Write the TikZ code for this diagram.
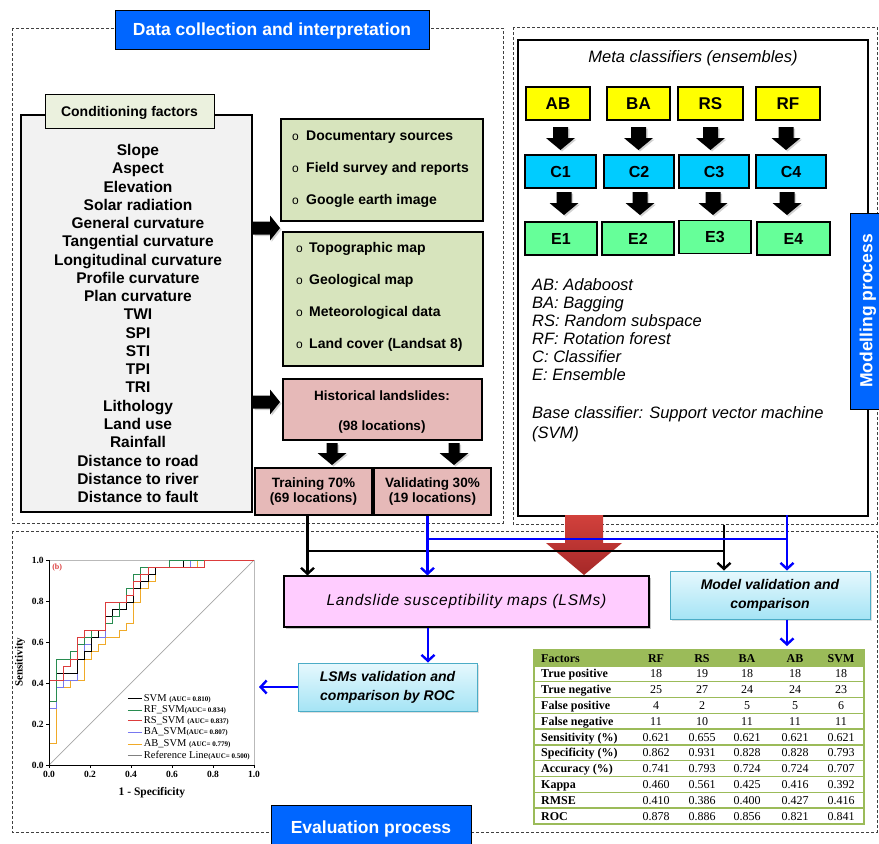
\documentclass[tikz,border=0pt]{standalone}
\usepackage{fontspec}
\setmainfont{Liberation Sans}
\newfontfamily\tabfont{Liberation Serif}
\newfontfamily\lsmfont[LetterSpace=5]{Liberation Sans}
\usetikzlibrary{arrows.meta,shadows,calc}
\definecolor{tabblue}{RGB}{0,102,255}
\definecolor{factgray}{RGB}{242,242,242}
\definecolor{labgreen}{RGB}{235,241,222}
\definecolor{srcgreen}{RGB}{215,228,189}
\definecolor{histpink}{RGB}{230,185,184}
\definecolor{ensyellow}{RGB}{255,255,0}
\definecolor{clscyan}{RGB}{0,204,255}
\definecolor{ensgreen}{RGB}{102,255,153}
\definecolor{lsmpink}{RGB}{255,204,255}
\definecolor{valtop}{RGB}{230,248,253}
\definecolor{valbot}{RGB}{165,228,245}
\definecolor{valedge}{RGB}{75,172,198}
\definecolor{tabgreen}{RGB}{155,187,89}
\definecolor{redarrow}{RGB}{210,65,60}
\definecolor{redarrowdark}{RGB}{165,40,40}
\definecolor{linkblue}{RGB}{0,0,255}
\definecolor{rocgreen}{RGB}{40,140,80}
\definecolor{rocred}{RGB}{220,60,60}
\definecolor{rocblue}{RGB}{120,120,240}
\definecolor{rocorange}{RGB}{240,170,40}
\newcommand\fatright[2]{%
  \fill[black, drop shadow={shadow xshift=1.5pt,shadow yshift=-1.5pt,opacity=0.35}]
    (#1,#2) ++(0,-6.5) -- ++(17,0) -- ++(0,-6) -- ++(10,12.5) -- ++(-10,12.5) -- ++(0,-6) -- ++(-17,0) -- cycle;}
\newcommand\fatdown[6]{%
  \fill[black, drop shadow={shadow xshift=1.5pt,shadow yshift=-1.5pt,opacity=0.35}]
    ({#1-#3},#2) -- ({#1+#3},#2) -- ({#1+#3},#5) -- ({#1+#4},#5) -- (#1,#6) -- ({#1-#4},#5) -- ({#1-#3},#5) -- cycle;}
\begin{document}
\begin{tikzpicture}[x=1pt,y=-1pt,
  dashbox/.style={draw=black!75, dash pattern=on 3pt off 2pt, line width=0.9pt},
  tabbox/.style={fill=tabblue, draw=black, line width=1pt, text=white, font=\bfseries\fontsize{17.5}{20}\selectfont, inner sep=0pt, text height=12.5pt, text depth=0pt},
  plainbox/.style={draw=black, line width=1.1pt, inner sep=0pt},
  fact/.style={anchor=base, font=\bfseries\fontsize{15.5}{18}\selectfont, inner sep=0pt},
  srctext/.style={anchor=base west, font=\bfseries\fontsize{14}{16}\selectfont, inner sep=0pt},
  bul/.style={anchor=base west, font=\fontsize{12}{14}\selectfont, inner sep=0pt},
  ensbox/.style={draw=black, line width=1.1pt, font=\bfseries\fontsize{17}{20}\selectfont, inner sep=0pt, minimum height=33},
  clsbox/.style={draw=black, line width=1.1pt, font=\bfseries\fontsize{16}{20}\selectfont, inner sep=0pt, minimum height=33},
  legtext/.style={anchor=base west, font=\itshape\fontsize{16.5}{18}\selectfont, inner sep=0pt},
  valbox/.style={draw=valedge, line width=1pt, top color=valtop, bottom color=valbot, font=\bfseries\itshape\fontsize{14}{19}\selectfont, align=center, inner sep=0pt, drop shadow={shadow xshift=1.5pt,shadow yshift=-1.5pt,opacity=0.25}},
  blk/.style={line width=2.4pt, black},
  blu/.style={line width=2.4pt, linkblue},
  arrowend/.style={-{Straight Barb[length=6pt,width=13pt]}},
  cellb/.style={inner sep=0pt, font=\tabfont\bfseries\fontsize{12}{14}\selectfont},
  cellr/.style={anchor=base, inner sep=0pt, font=\tabfont\fontsize{12}{14}\selectfont},
  ticklab/.style={inner sep=0pt, font=\tabfont\bfseries\fontsize{9.5}{11}\selectfont}
]
\useasboundingbox (0,0) rectangle (879,844);
\fill[white] (0,0) rectangle (879,844);

% ---------- dashed frames ----------
\draw[dashbox] (12,28) rectangle (503,523);
\draw[dashbox] (513,27) rectangle (877,524);
\draw[dashbox] (12,531) rectangle (877,832);

% ---------- data collection ----------
\node[tabbox, minimum width=314, minimum height=39] (t1) at (272,29.5) {Data collection and interpretation};

\node[draw=black, line width=1.2pt, fill=factgray, minimum width=231, minimum height=397] (fbox) at (136.5,313.5) {};
\node[draw=black, line width=1pt, fill=labgreen, minimum width=169, minimum height=34, inner sep=0pt,
      font=\bfseries\fontsize{14}{16}\selectfont, text height=10pt, text depth=0pt,
      drop shadow={shadow xshift=1pt,shadow yshift=-1pt,opacity=0.3}] (flab) at (129.5,111) {Conditioning factors};
\foreach \t [count=\i] in {Slope,Aspect,Elevation,Solar radiation,General curvature,Tangential curvature,Longitudinal curvature,Profile curvature,Plan curvature,TWI,SPI,STI,TPI,TRI,Lithology,Land use,Rainfall,Distance to road,Distance to river,Distance to fault}
  \node[fact] (f\i) at (138,{155.6+18.26*(\i-1)}) {\t};

\node[draw=black, line width=1.1pt, fill=srcgreen, minimum width=202, minimum height=102] (src1) at (382,170) {};
\node[draw=black, line width=1.1pt, fill=srcgreen, minimum width=200, minimum height=134] (src2) at (383,299) {};
\foreach \t/\yy [count=\i] in {Documentary sources/140,Field survey and reports/172,Google earth image/204}{
  \node[bul] (sa\i) at (292,\yy) {o};
  \node[srctext] (sb\i) at (306,\yy) {\t};}
\foreach \t/\yy [count=\i] in {Topographic map/252,Geological map/284,Meteorological data/316,Land cover (Landsat 8)/348}{
  \node[bul] (sc\i) at (296,\yy) {o};
  \node[srctext] (sd\i) at (309,\yy) {\t};}

\node[draw=black, line width=1.1pt, fill=histpink, minimum width=199, minimum height=61] (hist) at (382.5,409.5) {};
\node[anchor=base, inner sep=0pt, font=\bfseries\fontsize{13.5}{16}\selectfont] (hist1) at (382,400) {Historical landslides:};
\node[anchor=base, inner sep=0pt, font=\bfseries\fontsize{13.5}{16}\selectfont] (hist2) at (382,430) {(98 locations)};

\node[plainbox, fill=histpink, minimum width=117, minimum height=47, align=center, font=\bfseries\fontsize{13.5}{15}\selectfont] (train) at (313.5,491.5) {Training 70\%\\(69 locations)};
\node[plainbox, fill=histpink, minimum width=117, minimum height=47, align=center, font=\bfseries\fontsize{13.5}{15}\selectfont] (valid) at (432.5,491.5) {Validating 30\%\\(19 locations)};

\fatright{253}{228}
\fatright{253}{402}
\fatdown{332}{443}{5.5}{14.5}{453}{465}
\fatdown{454}{443}{5.5}{14.5}{453}{465}

% ---------- modelling ----------
\node[draw=black, line width=1.3pt, fill=white, minimum width=350, minimum height=476] (metabox) at (693,278) {};
\node[inner sep=0pt, anchor=base, font=\itshape\fontsize{16.5}{18}\selectfont] (metatitle) at (693,62) {Meta classifiers (ensembles)};
\foreach \lab/\x/\w [count=\i] in {AB/558/64,BA/638.5/63,RS/710.5/65,RF/788/64}
  \node[ensbox, fill=ensyellow, minimum width=\w] (y\i) at (\x,103.5) {\lab};
\foreach \lab/\x/\w [count=\i] in {C1/560.5/71,C2/639/70,C3/714/70,C4/791/70}
  \node[clsbox, fill=clscyan, minimum width=\w] (c\i) at (\x,171.5) {\lab};
\foreach \lab/\x/\w/\yy [count=\i] in {E1/561/72/238.5,E2/638/72/238.5,E3/715/72/237,E4/793.5/73/238.5}
  \node[clsbox, fill=ensgreen, minimum width=\w] (e\i) at (\x,\yy) {\lab};
\foreach \cx in {560.5,638.5,710.5,786}{\fatdown{\cx}{127}{7.5}{14.5}{138}{150}}
\foreach \cx in {564,640,713,787}{\fatdown{\cx}{192}{7.5}{14.5}{203}{215}}
\foreach \t/\yy [count=\i] in {AB: Adaboost/290,BA: Bagging/308,RS: Random subspace/326,RF: Rotation forest/344,C: Classifier/362,E: Ensemble/380}
  \node[legtext] (lg\i) at (532,\yy) {\t};
\node[legtext] (base1) at (532,418) {Base classifier: Support vector machine};
\node[legtext] (base2) at (532,438) {(SVM)};
\node[tabbox, minimum width=196, minimum height=32, rotate=90] (mtab) at (866,311) {Modelling process};

% ---------- evaluation ----------
\shade[top color=redarrow, bottom color=redarrowdark] (565,515) -- (603,515) -- (603,543) -- (622,543) -- (584,575) -- (546,543) -- (565,543) -- cycle;

\node[draw=black, line width=1.1pt, fill=lsmpink, minimum width=365, minimum height=51, inner sep=0pt,
      font=\lsmfont\itshape\fontsize{15.5}{18}\selectfont,
      drop shadow={shadow xshift=2pt,shadow yshift=-2pt,opacity=0.45}] (lsm) at (466.5,601.5) {Landslide susceptibility maps (LSMs)};
\node[valbox, minimum width=200, minimum height=48] (modval) at (770,595) {Model validation and\\comparison};
\node[valbox, minimum width=179, minimum height=48] (lsmval) at (387.5,687) {LSMs validation and\\comparison by ROC};

\coordinate (tb) at ([xshift=-6pt]train.south);
\coordinate (vb) at ([xshift=-5pt]valid.south);
\coordinate (blackbar) at (724,551);
\coordinate (mtop) at (724,525);
\coordinate (bluebar) at (787,539);
\coordinate (bluedrop) at (787,515);
\draw[blk] (tb |- blackbar) -- (blackbar);
\draw[blk, arrowend] (tb) -- (tb |- lsm.north);
\draw[blk, arrowend] (mtop) -- (mtop |- modval.north);
\draw[blu] (vb |- bluebar) -- (bluebar);
\draw[blu, arrowend] (vb) -- (vb |- lsm.north);
\draw[blu, arrowend] (bluedrop) -- (bluedrop |- modval.north);
\coordinate (lsmdrop) at ([xshift=-38.5pt]lsm.south);
\draw[blu, arrowend] (lsmdrop) -- (lsmdrop |- lsmval.north);
\coordinate (rocright) at (259,689);
\draw[blu, arrowend] (lsmval.west) -- (lsmval.west -| rocright);
\coordinate (tabtop) at (787,646);
\draw[blu, arrowend] ([xshift=17pt]modval.south) -- (tabtop);

\node[tabbox, minimum width=200, minimum height=44] (etab) at (371,827) {Evaluation process};

% ---------- table ----------
\fill[tabgreen] (534,650.1) rectangle (864,665.9);
\foreach \k in {1,...,10} \draw[tabgreen, line width=1.3pt] (534,{650.1+15.8*\k}) -- (864,{650.1+15.8*\k});
\draw[tabgreen, line width=1.8pt] (534,650.1) rectangle (864,823.9);
\node[cellb, anchor=base west] (hf) at (541,662) {Factors};
\foreach \h/\x [count=\c] in {RF/656,RS/702,BA/747,AB/795,SVM/841}
  \node[cellb, anchor=base] (h\c) at (\x,662) {\h};
\foreach \rn/\va/\vb/\vc/\vd/\ve [count=\r] in {True positive/18/19/18/18/18,True negative/25/27/24/24/23,False positive/4/2/5/5/6,False negative/11/10/11/11/11,Sensitivity (\%)/0.621/0.655/0.621/0.621/0.621,Specificity (\%)/0.862/0.931/0.828/0.828/0.793,Accuracy (\%)/0.741/0.793/0.724/0.724/0.707,Kappa/0.460/0.561/0.425/0.416/0.392,RMSE/0.410/0.386/0.400/0.427/0.416,ROC/0.878/0.886/0.856/0.821/0.841}{
  \node[cellb, anchor=base west] (r\r) at (541,{662+15.8*\r}) {\rn};
  \node[cellr] (r\r a) at (656,{662+15.8*\r}) {\va};
  \node[cellr] (r\r b) at (702,{662+15.8*\r}) {\vb};
  \node[cellr] (r\r c) at (747,{662+15.8*\r}) {\vc};
  \node[cellr] (r\r d) at (795,{662+15.8*\r}) {\vd};
  \node[cellr] (r\r e) at (841,{662+15.8*\r}) {\ve};
}

% ---------- ROC chart ----------
\begin{scope}[shift={(49,765)}, x=205pt, y=205pt]
  \draw[gray!55, line width=0.6pt] (0,1) -- (1,1) -- (1,0);
  \draw[gray!70, line width=0.7pt] (0,0) -- (1,1);
  \draw[rocorange, line width=0.9pt] plot coordinates {(0,0)(0,.103)(.034,.103)(.034,.379)(.103,.379)(.103,.414)(.172,.414)(.172,.517)(.207,.517)(.207,.552)(.241,.552)(.241,.586)(.276,.586)(.276,.621)(.345,.621)(.345,.655)(.379,.655)(.379,.690)(.414,.690)(.414,.793)(.448,.793)(.448,.862)(.483,.862)(.483,.897)(.517,.897)(.517,.966)(.724,.966)(.724,1)(1,1)};
  \draw[rocblue, line width=0.9pt] plot coordinates {(0,0)(0,.276)(.034,.276)(.034,.379)(.069,.379)(.069,.414)(.138,.414)(.138,.517)(.172,.517)(.172,.586)(.207,.586)(.207,.621)(.276,.621)(.276,.690)(.310,.690)(.310,.724)(.345,.724)(.345,.759)(.379,.759)(.379,.828)(.414,.828)(.414,.897)(.483,.897)(.483,.931)(.517,.931)(.517,.966)(.690,.966)(.690,1)(1,1)};
  \draw[black, line width=0.9pt] plot coordinates {(0,0)(0,.310)(.034,.310)(.034,.448)(.138,.448)(.138,.517)(.172,.517)(.172,.552)(.207,.552)(.207,.621)(.241,.621)(.241,.655)(.276,.655)(.276,.724)(.310,.724)(.310,.759)(.379,.759)(.379,.793)(.414,.793)(.414,.862)(.448,.862)(.448,.897)(.483,.897)(.483,.931)(.517,.931)(.517,.966)(.655,.966)(.655,1)(1,1)};
  \draw[rocgreen, line width=0.9pt] plot coordinates {(0,0)(0,.310)(.034,.310)(.034,.517)(.103,.517)(.103,.552)(.138,.552)(.138,.586)(.172,.586)(.172,.621)(.207,.621)(.207,.655)(.276,.655)(.276,.690)(.310,.690)(.310,.724)(.345,.724)(.345,.793)(.379,.793)(.379,.862)(.414,.862)(.414,.931)(.448,.931)(.448,.966)(.586,.966)(.586,1)(1,1)};
  \draw[rocred, line width=0.9pt] plot coordinates {(0,0)(0,.414)(.069,.414)(.069,.483)(.103,.483)(.103,.517)(.138,.517)(.138,.621)(.172,.621)(.172,.655)(.276,.655)(.276,.793)(.379,.793)(.379,.828)(.414,.828)(.414,.897)(.448,.897)(.448,.931)(.483,.931)(.483,.966)(.759,.966)(.759,1)(1,1)};
  \draw[black, line width=0.8pt] (0,1) -- (0,0) -- (1,0);
  \foreach \v/\l [count=\i] in {0/0.0,0.2/0.2,0.4/0.4,0.6/0.6,0.8/0.8,1/1.0}{
    \draw[black, line width=0.6pt] (\v,0) -- (\v,-0.015);
    \draw[black, line width=0.6pt] (0,\v) -- (-0.015,\v);
    \node[ticklab, anchor=north] (xl\i) at (\v,-0.03) {\l};
    \node[ticklab, anchor=east] (yl\i) at (-0.025,\v) {\l};
  }
  \node[inner sep=0pt, font=\tabfont\bfseries\fontsize{11.5}{13}\selectfont] (xlab) at (0.502,-0.137) {1 - Specificity};
  \node[inner sep=0pt, rotate=90, font=\tabfont\bfseries\fontsize{11}{13}\selectfont] (ylab) at (-0.141,0.502) {Sensitivity};
  \node[inner sep=0pt, text=rocred, font=\tabfont\bfseries\fontsize{8}{10}\selectfont] (bmark) at (0.04,0.961) {(b)};
  \foreach \col/\nm/\auc/\yy [count=\i] in {black/SVM /0.810/0.322,rocgreen/RF\_SVM/0.834/0.268,rocred/RS\_SVM /0.837/0.215,rocblue/BA\_SVM/0.807/0.161,rocorange/AB\_SVM /0.779/0.102,gray/Reference Line/0.500/0.044}{
    \draw[\col, line width=1pt] (0.385,\yy) -- (0.454,\yy);
    \node[anchor=west, inner sep=0pt, font=\tabfont\fontsize{10.5}{12}\selectfont] (leg\i) at (0.462,\yy) {\nm{\bfseries\fontsize{7}{8}\selectfont(AUC= \auc)}};
  }
\end{scope}
\end{tikzpicture}
\end{document}
